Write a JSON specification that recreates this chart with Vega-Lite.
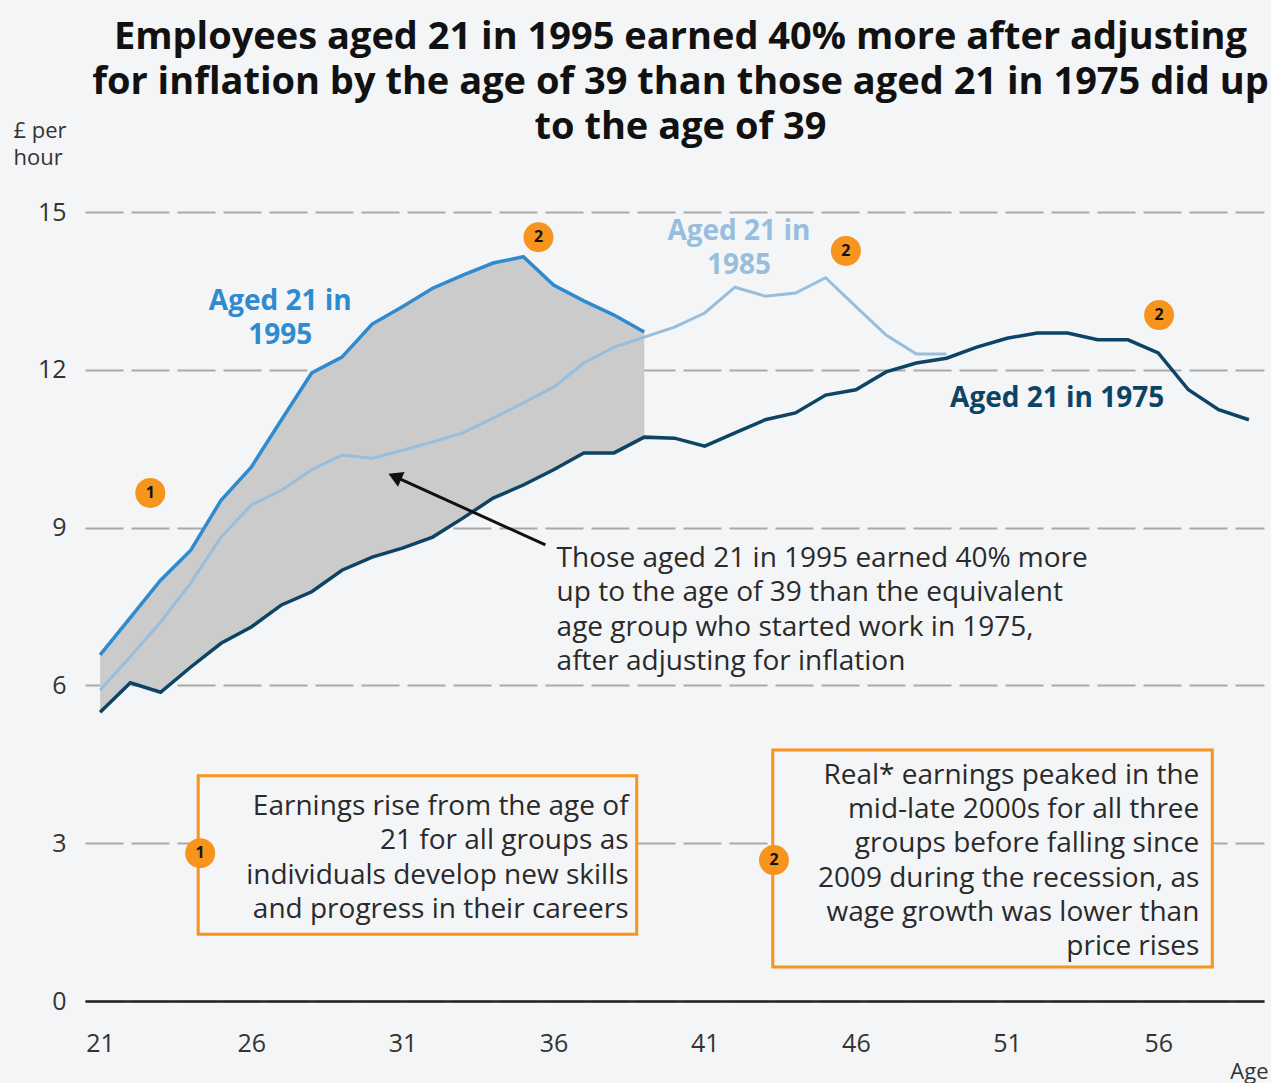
{
  "$schema": "https://vega.github.io/schema/vega-lite/v6.json",
  "autosize": "none",
  "width": 1179,
  "height": 789,
  "padding": {"left": 85, "top": 212, "right": 7, "bottom": 82},
  "background": "#f4f5f7",
  "config": {
    "font": "Open Sans",
    "view": {"stroke": null},
    "title": {"font": "Open Sans", "fontSize": 38, "fontWeight": "bold", "color": "#111111", "lineHeight": 45}
  },
  "title": {
    "text": ["Employees aged 21 in 1995 earned 40% more after adjusting", "for inflation by the age of 39 than those aged 21 in 1975 did up", "to the age of 39"],
    "anchor": "middle",
    "offset": -28,
    "dx": 6
  },
  "datasets": {
    "earnings": [
      {"age": 21, "e1975": 5.49, "e1985": 5.91, "e1995": 6.58},
      {"age": 22, "e1975": 6.05, "e1985": 6.55, "e1995": 7.29},
      {"age": 23, "e1975": 5.87, "e1985": 7.2, "e1995": 8.0},
      {"age": 24, "e1975": 6.35, "e1985": 7.95, "e1995": 8.57},
      {"age": 25, "e1975": 6.8, "e1985": 8.82, "e1995": 9.52},
      {"age": 26, "e1975": 7.11, "e1985": 9.43, "e1995": 10.15},
      {"age": 27, "e1975": 7.53, "e1985": 9.71, "e1995": 11.05},
      {"age": 28, "e1975": 7.78, "e1985": 10.1, "e1995": 11.94},
      {"age": 29, "e1975": 8.19, "e1985": 10.38, "e1995": 12.24},
      {"age": 30, "e1975": 8.44, "e1985": 10.32, "e1995": 12.87},
      {"age": 31, "e1975": 8.61, "e1985": 10.47, "e1995": 13.2},
      {"age": 32, "e1975": 8.82, "e1985": 10.63, "e1995": 13.55},
      {"age": 33, "e1975": 9.18, "e1985": 10.8, "e1995": 13.8},
      {"age": 34, "e1975": 9.56, "e1985": 11.08, "e1995": 14.03},
      {"age": 35, "e1975": 9.81, "e1985": 11.37, "e1995": 14.15},
      {"age": 36, "e1975": 10.1, "e1985": 11.67, "e1995": 13.61},
      {"age": 37, "e1975": 10.42, "e1985": 12.13, "e1995": 13.31},
      {"age": 38, "e1975": 10.42, "e1985": 12.43, "e1995": 13.04},
      {"age": 39, "e1975": 10.72, "e1985": 12.62, "e1995": 12.72},
      {"age": 40, "e1975": 10.7, "e1985": 12.81, "e1995": null},
      {"age": 41, "e1975": 10.55, "e1985": 13.08, "e1995": null},
      {"age": 42, "e1975": 10.8, "e1985": 13.57, "e1995": null},
      {"age": 43, "e1975": 11.05, "e1985": 13.4, "e1995": null},
      {"age": 44, "e1975": 11.18, "e1985": 13.46, "e1995": null},
      {"age": 45, "e1975": 11.52, "e1985": 13.75, "e1995": null},
      {"age": 46, "e1975": 11.62, "e1985": 13.2, "e1995": null},
      {"age": 47, "e1975": 11.96, "e1985": 12.66, "e1995": null},
      {"age": 48, "e1975": 12.13, "e1985": 12.3, "e1995": null},
      {"age": 49, "e1975": 12.22, "e1985": 12.3, "e1995": null},
      {"age": 50, "e1975": 12.43, "e1985": null, "e1995": null},
      {"age": 51, "e1975": 12.6, "e1985": null, "e1995": null},
      {"age": 52, "e1975": 12.7, "e1985": null, "e1995": null},
      {"age": 53, "e1975": 12.7, "e1985": null, "e1995": null},
      {"age": 54, "e1975": 12.57, "e1985": null, "e1995": null},
      {"age": 55, "e1975": 12.57, "e1985": null, "e1995": null},
      {"age": 56, "e1975": 12.32, "e1985": null, "e1995": null},
      {"age": 57, "e1975": 11.62, "e1985": null, "e1995": null},
      {"age": 58, "e1975": 11.24, "e1985": null, "e1995": null},
      {"age": 59, "e1975": 11.05, "e1985": null, "e1995": null}
    ],
    "markers": [
      {"n": "1", "a": 22.66, "v": 9.66},
      {"n": "2", "a": 35.5, "v": 14.52},
      {"n": "2", "a": 45.67, "v": 14.26},
      {"n": "2", "a": 56.03, "v": 13.04},
      {"n": "1", "a": 24.31, "v": 2.81},
      {"n": "2", "a": 43.29, "v": 2.68}
    ],
    "one": [{"k": 1}]
  },
  "layer": [
    {
      "data": {"name": "earnings"},
      "transform": [{"filter": "datum.age <= 39"}],
      "mark": {"type": "area", "color": "#cbcbcb", "opacity": 1},
      "encoding": {
        "x": {
          "field": "age", "type": "quantitative",
          "scale": {"domain": [20.5, 59.5], "nice": false, "zero": false},
          "axis": {
            "values": [21, 26, 31, 36, 41, 46, 51, 56],
            "grid": false, "ticks": false,
            "domainColor": "#222222", "domainWidth": 2.5,
            "labelFontSize": 25, "labelColor": "#333333", "labelPadding": 30, "labelFont": "Open Sans",
            "title": "Age", "titleFontSize": 22, "titleFontWeight": "normal", "titleColor": "#333333",
            "titleX": 1183, "titleY": 82, "titleAlign": "right", "titleBaseline": "bottom"
          }
        },
        "y": {
          "field": "e1995", "type": "quantitative",
          "scale": {"domain": [0, 15], "nice": false},
          "axis": {
            "values": [0, 3, 6, 9, 12, 15],
            "domain": false, "ticks": false,
            "grid": true, "gridColor": "#a9a9a9", "gridDash": [38, 8], "gridWidth": 2,
            "labelFontSize": 25, "labelColor": "#333333", "labelPadding": 19, "labelFont": "Open Sans",
            "title": ["£ per", "hour"], "titleAngle": 0, "titleAlign": "left", "titleBaseline": "top",
            "titleX": -72, "titleY": -92, "titleFontSize": 22, "titleFontWeight": "normal", "titleColor": "#333333", "titleLineHeight": 27
          }
        },
        "y2": {"field": "e1975"}
      }
    },
    {
      "data": {"name": "earnings"},
      "transform": [{"filter": "isValid(datum.e1985)"}],
      "mark": {"type": "line", "color": "#98bedd", "strokeWidth": 3},
      "encoding": {"x": {"field": "age", "type": "quantitative"}, "y": {"field": "e1985", "type": "quantitative"}}
    },
    {
      "data": {"name": "earnings"},
      "transform": [{"filter": "isValid(datum.e1975)"}],
      "mark": {"type": "line", "color": "#0d4465", "strokeWidth": 3.5},
      "encoding": {"x": {"field": "age", "type": "quantitative"}, "y": {"field": "e1975", "type": "quantitative"}}
    },
    {
      "data": {"name": "earnings"},
      "transform": [{"filter": "isValid(datum.e1995)"}],
      "mark": {"type": "line", "color": "#2f8bd0", "strokeWidth": 3.5},
      "encoding": {"x": {"field": "age", "type": "quantitative"}, "y": {"field": "e1995", "type": "quantitative"}}
    },
    {
      "data": {"name": "one"},
      "mark": {"type": "text", "text": ["Aged 21 in", "1995"], "font": "Open Sans", "fontSize": 28, "fontWeight": "bold", "color": "#2f8bd0", "align": "center", "baseline": "alphabetic", "lineHeight": 34},
      "encoding": {"x": {"datum": 26.96, "type": "quantitative"}, "y": {"datum": 13.14, "type": "quantitative"}}
    },
    {
      "data": {"name": "one"},
      "mark": {"type": "text", "text": ["Aged 21 in", "1985"], "font": "Open Sans", "fontSize": 28, "fontWeight": "bold", "color": "#98bedd", "align": "center", "baseline": "alphabetic", "lineHeight": 34},
      "encoding": {"x": {"datum": 42.13, "type": "quantitative"}, "y": {"datum": 14.47, "type": "quantitative"}}
    },
    {
      "data": {"name": "one"},
      "mark": {"type": "text", "text": "Aged 21 in 1975", "font": "Open Sans", "fontSize": 28, "fontWeight": "bold", "color": "#0d4465", "align": "center", "baseline": "alphabetic"},
      "encoding": {"x": {"datum": 52.66, "type": "quantitative"}, "y": {"datum": 11.29, "type": "quantitative"}}
    },
    {
      "data": {"name": "one"},
      "mark": {"type": "text", "text": ["Those aged 21 in 1995 earned 40% more", "up to the age of 39 than the equivalent", "age group who started work in 1975,", "after adjusting for inflation"], "font": "Open Sans", "fontSize": 28, "color": "#2a2a2a", "align": "left", "baseline": "alphabetic", "lineHeight": 34.3},
      "encoding": {"x": {"datum": 36.1, "type": "quantitative"}, "y": {"datum": 8.25, "type": "quantitative"}}
    },
    {
      "data": {"name": "one"},
      "mark": {"type": "rule", "color": "#111111", "strokeWidth": 3},
      "encoding": {"x": {"datum": 35.73, "type": "quantitative"}, "y": {"datum": 8.67, "type": "quantitative"}, "x2": {"datum": 30.75}, "y2": {"datum": 9.97}}
    },
    {
      "data": {"name": "one"},
      "mark": {"type": "point", "shape": "triangle-up", "filled": true, "color": "#111111", "size": 260, "angle": 294, "opacity": 1},
      "encoding": {"x": {"datum": 30.75, "type": "quantitative"}, "y": {"datum": 9.97, "type": "quantitative"}}
    },
    {
      "data": {"name": "one"},
      "mark": {"type": "rect", "fill": "#f4f5f7", "stroke": "#f7941d", "strokeWidth": 3},
      "encoding": {"x": {"datum": 24.245, "type": "quantitative"}, "x2": {"datum": 38.75}, "y": {"datum": 4.28, "type": "quantitative"}, "y2": {"datum": 1.27}}
    },
    {
      "data": {"name": "one"},
      "mark": {"type": "rect", "fill": "#f4f5f7", "stroke": "#f7941d", "strokeWidth": 3},
      "encoding": {"x": {"datum": 43.25, "type": "quantitative"}, "x2": {"datum": 57.79}, "y": {"datum": 4.77, "type": "quantitative"}, "y2": {"datum": 0.646}}
    },
    {
      "data": {"name": "one"},
      "mark": {"type": "text", "text": ["Earnings rise from the age of", "21 for all groups as", "individuals develop new skills", "and progress in their careers"], "font": "Open Sans", "fontSize": 28, "color": "#2a2a2a", "align": "right", "baseline": "alphabetic", "lineHeight": 34.3},
      "encoding": {"x": {"datum": 38.48, "type": "quantitative"}, "y": {"datum": 3.536, "type": "quantitative"}}
    },
    {
      "data": {"name": "one"},
      "mark": {"type": "text", "text": ["Real* earnings peaked in the", "mid-late 2000s for all three", "groups before falling since", "2009 during the recession, as", "wage growth was lower than", "price rises"], "font": "Open Sans", "fontSize": 28, "color": "#2a2a2a", "align": "right", "baseline": "alphabetic", "lineHeight": 34.2},
      "encoding": {"x": {"datum": 57.36, "type": "quantitative"}, "y": {"datum": 4.125, "type": "quantitative"}}
    },
    {
      "data": {"name": "markers"},
      "mark": {"type": "circle", "color": "#f7941d", "size": 900, "opacity": 1},
      "encoding": {"x": {"field": "a", "type": "quantitative"}, "y": {"field": "v", "type": "quantitative"}}
    },
    {
      "data": {"name": "markers"},
      "mark": {"type": "text", "font": "Open Sans", "fontSize": 16, "fontWeight": "bold", "color": "#111111", "align": "center", "baseline": "middle"},
      "encoding": {"x": {"field": "a", "type": "quantitative"}, "y": {"field": "v", "type": "quantitative"}, "text": {"field": "n"}}
    }
  ]
}
